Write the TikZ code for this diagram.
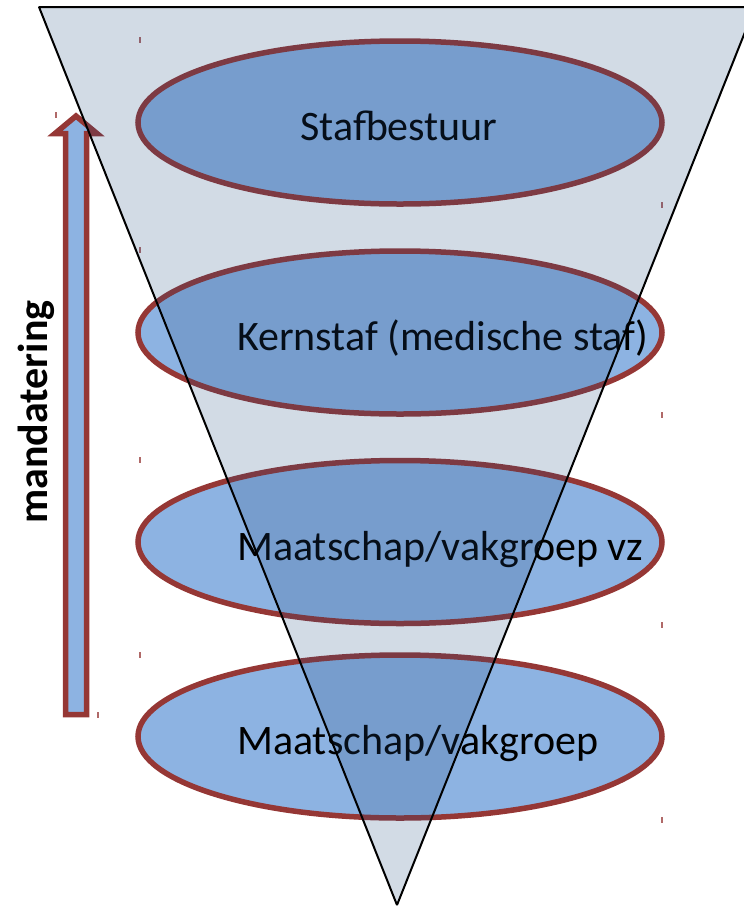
\documentclass[tikz,border=0pt]{standalone}
\usepackage{fontspec}
\setmainfont{Carlito}
\usetikzlibrary{shapes.geometric}
\definecolor{ellfill}{HTML}{8DB3E2}
\definecolor{ellborder}{HTML}{953735}
\definecolor{trifill}{HTML}{1F497D}
\tikzset{
  layer/.style={ellipse, draw=ellborder, line width=5.5pt, fill=ellfill,
    minimum width=524pt, minimum height=163pt, inner sep=0pt},
  label/.style={font=\fontsize{42}{48}\selectfont, text=black, inner sep=0pt},
  tick/.style={draw=ellborder, draw opacity=0.75, line width=1.3pt},
}
\begin{document}
\begin{tikzpicture}[x=1pt,y=-1pt]
\useasboundingbox (0,0) rectangle (744,906);
% tiny selection marks
\foreach \px/\py in {140/40, 140/250, 140/460, 140/655, 662/205, 662/415, 662/625, 662/820, 56/115, 98/715}
  \draw[tick] (\px,\py-3) -- (\px,\py+3);
% layers
\node[layer] (e1) at (400,122.5) {};
\node[layer] (e2) at (400,332.5) {};
\node[layer] (e3) at (400,542) {};
\node[layer] (e4) at (400,736.5) {};
\node[label, anchor=base] (t1) at (399,140) {Stafbestuur};
\node[label, anchor=base west] (t2) at (237,350) {Kernstaf (medische staf)};
\node[label, anchor=base west] (t3) at (237,560) {Maatschap/vakgroep vz};
\node[label, anchor=base west] (t4) at (237,754) {Maatschap/vakgroep};
% mandatering arrow
\draw[ellborder, line width=5.5pt, fill=ellfill, line join=miter]
  (65.5,714.5) -- (65.5,133.5) -- (55,133.5) -- (76,116) -- (97,133.5) -- (86.5,133.5) -- (86.5,714.5) -- cycle;
\node[font=\fontsize{42}{48}\selectfont\bfseries, rotate=90, anchor=base, inner sep=0pt] (m) at (47,412) {mandatering};
% inverted triangle overlay
\coordinate (tl) at (39,7);
\coordinate (tr) at (755,7);
\coordinate (ap) at (397,905);
\fill[fill=trifill, fill opacity=0.2] (tl) -- (tr) -- (ap) -- cycle;
\draw[black, line width=2pt, line join=bevel] (tl) -- (tr) -- (ap) -- cycle;
\end{tikzpicture}
\end{document}
